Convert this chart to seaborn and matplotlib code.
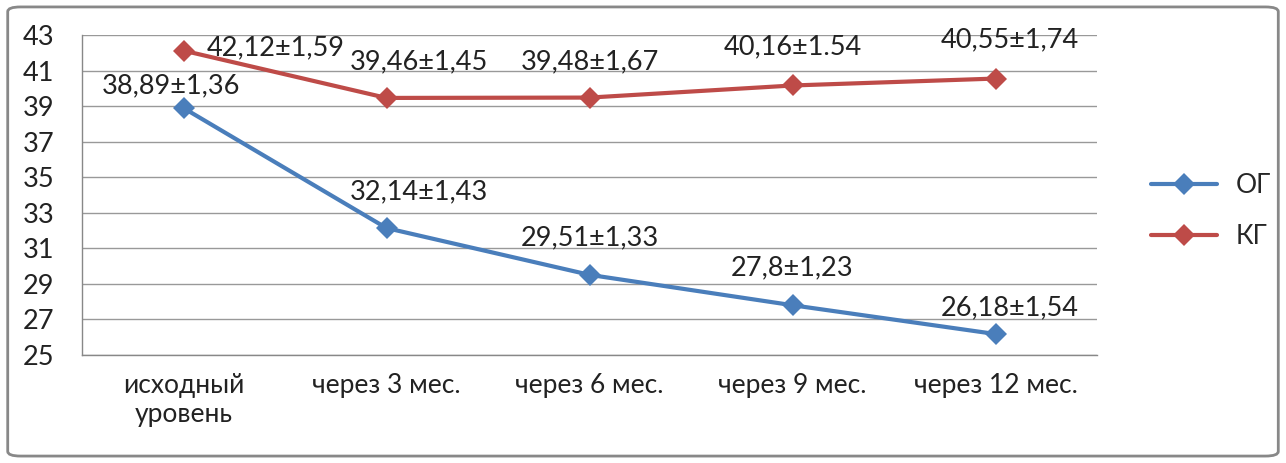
import matplotlib.pyplot as plt
import matplotlib.patches as mpatches
import seaborn as sns
import pandas as pd

categories = ["исходный\nуровень", "через 3 мес.", "через 6 мес.", "через 9 мес.", "через 12 мес."]
og_values = [38.89, 32.14, 29.51, 27.8, 26.18]
kg_values = [42.12, 39.46, 39.48, 40.16, 40.55]
og_labels = ["38,89±1,36", "32,14±1,43", "29,51±1,33", "27,8±1,23", "26,18±1,54"]
kg_labels = ["42,12±1,59", "39,46±1,45", "39,48±1,67", "40,16±1.54", "40,55±1,74"]
y_ticks = [25, 27, 29, 31, 33, 35, 37, 39, 41, 43]

sns.set_theme(style="white")
plt.rcParams["font.family"] = ["Lato", "DejaVu Sans"]

df = pd.DataFrame({
    "pos": list(range(5)) * 2,
    "value": og_values + kg_values,
    "group": ["ОГ"] * 5 + ["КГ"] * 5,
})

fig = plt.figure(figsize=(12.86, 4.63), dpi=100)
ax = fig.add_axes([82 / 1286, 1 - 355 / 463, 1015 / 1286, 320 / 463])

sns.lineplot(data=df, x="pos", y="value", hue="group", style="group",
             markers={"ОГ": "D", "КГ": "D"}, dashes=False,
             palette={"ОГ": "#4A7EBB", "КГ": "#BE4B48"},
             linewidth=3, markersize=11, markeredgewidth=0, ax=ax)

ax.set_xlim(-0.5, 4.5)
ax.set_ylim(25, 43)
ax.set_yticks(y_ticks)
ax.set_yticklabels([str(t) for t in y_ticks], fontsize=19.5, color="#222222")
ax.set_xticks(range(5))
ax.set_xticklabels(categories, fontsize=19, color="#222222", linespacing=1.2)
ax.set_xticks([i - 0.5 for i in range(6)], minor=True)
ax.tick_params(axis="x", which="major", length=0, pad=13)
ax.tick_params(axis="x", which="minor", length=6, color="#888888", direction="out")
ax.tick_params(axis="y", length=5, color="#888888", direction="out", pad=15)
ax.set_xlabel("")
ax.set_ylabel("")
ax.yaxis.grid(True, color="#999999", linewidth=1)
for s in ["top", "right"]:
    ax.spines[s].set_visible(False)
for s in ["left", "bottom"]:
    ax.spines[s].set_color("#888888")
    ax.spines[s].set_linewidth(1)

og_off = [(-13, 22), (32, 36), (0, 37), (0, 37), (14, 26)]
kg_off = [(92, 3), (32, 36), (0, 36), (0, 39), (14, 39)]
for i in range(5):
    ax.annotate(og_labels[i], (i, og_values[i]), xytext=og_off[i], textcoords="offset pixels",
                ha="center", va="center", fontsize=19.5, color="#222222")
    ax.annotate(kg_labels[i], (i, kg_values[i]), xytext=kg_off[i], textcoords="offset pixels",
                ha="center", va="center", fontsize=19.5, color="#222222")

leg = ax.legend(loc="center left", bbox_to_anchor=(1.03, 0.45), frameon=False,
                fontsize=19, handlelength=2.5, labelspacing=1.0, handletextpad=0.7)
for h in leg.legend_handles:
    h.set_markersize(11)

fig.patches.append(mpatches.FancyBboxPatch((0.006, 0.015), 0.988, 0.97,
                   boxstyle="round,pad=0,rounding_size=0.01", transform=fig.transFigure,
                   fill=False, edgecolor="#888888", linewidth=2))

fig.savefig("out.png", dpi=100)
